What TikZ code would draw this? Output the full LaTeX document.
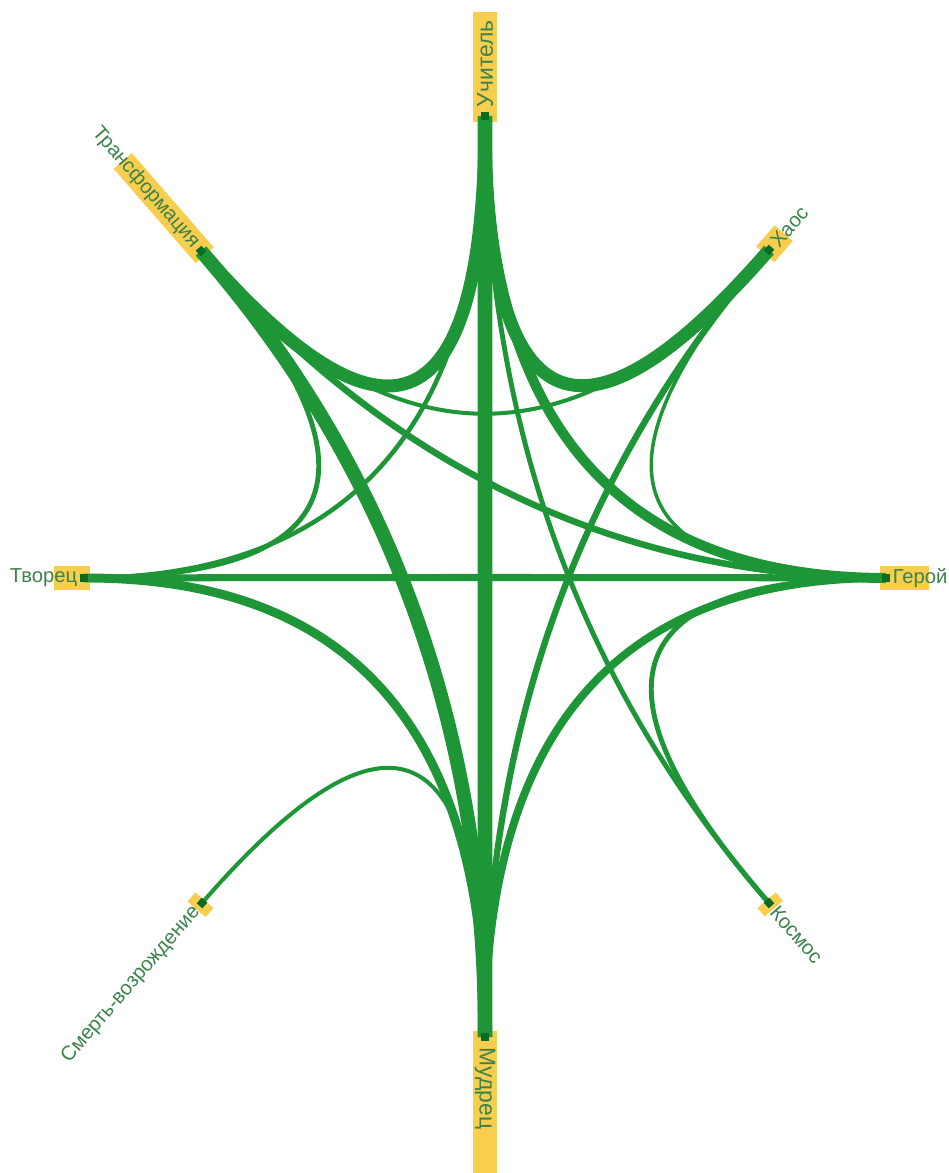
\documentclass[tikz,border=0pt]{standalone}
\usepackage{fontspec}
\setmainfont{Liberation Sans}
\usetikzlibrary{calc}

\definecolor{linkgreen}{RGB}{30,150,55}
\definecolor{nodegreen}{RGB}{10,105,35}
\definecolor{hiyellow}{RGB}{249,206,78}
\definecolor{textgreen}{RGB}{60,130,75}

\begin{document}
\begin{tikzpicture}[x=0.02cm, y=-0.02cm,
  link/.style={draw=linkgreen},
  viacentre/.style={to path={.. controls ($(\tikztostart)!2/3!(O)$) and ($(\tikztotarget)!2/3!(O)$) .. (\tikztotarget)}},
  stub/.style={fill=nodegreen, minimum size=0.15cm, inner sep=0pt},
  hibox/.style={fill=hiyellow, minimum height=0.48cm, inner sep=0pt},
  lbl/.style={text=textgreen, font=\fontsize{11.5}{13}\selectfont, inner sep=0pt}]

\useasboundingbox (0,0) rectangle (948,1173);

\coordinate (O) at (485,577);
\coordinate (U) at (485,116);
\coordinate (X) at (769,250);
\coordinate (G) at (886,578);
\coordinate (K) at (769,903);
\coordinate (M) at (485,1037);
\coordinate (S) at (202,903);
\coordinate (T) at (84,578);
\coordinate (F) at (201,251);

% yellow boxes behind the end points
\node[hibox, minimum width=2.2cm, rotate=90, anchor=west] (Ubox) at ($(U)!0.12cm!(O)$) {};
\node[hibox, minimum width=0.56cm, rotate=49, anchor=west] (Xbox) at ($(X)!0.12cm!(O)$) {};
\node[hibox, minimum width=0.98cm, anchor=west] (Gbox) at ($(G)!0.12cm!(O)$) {};
\node[hibox, minimum width=0.22cm, rotate=-49, anchor=west] (Kbox) at ($(K)!0.08cm!(O)$) {};
\node[hibox, minimum width=2.9cm, rotate=-90, anchor=west] (Mbox) at ($(M)!0.12cm!(O)$) {};
\node[hibox, minimum width=0.24cm, rotate=-131, anchor=west] (Sbox) at ($(S)!0.08cm!(O)$) {};
\node[hibox, minimum width=0.72cm, rotate=180, anchor=west] (Tbox) at ($(T)!0.12cm!(O)$) {};
\node[hibox, minimum width=2.5cm, rotate=131, anchor=west] (Fbox) at ($(F)!0.12cm!(O)$) {};

% links, bent through the centre
\draw[link, line width=8.5pt] (U) to[viacentre] (M);
\draw[link, line width=7.4pt] (U) to[viacentre] (F);
\draw[link, line width=7.4pt] (U) to[viacentre] (X);
\draw[link, line width=5.7pt] (U) to[viacentre] (G);
\draw[link, line width=2.6pt] (U) to[viacentre] (T);
\draw[link, line width=2.8pt] (U) to[viacentre] (K);
\draw[link, line width=8pt]   (F) to[viacentre] (M);
\draw[link, line width=3.7pt] (F) to[viacentre] (G);
\draw[link, line width=2.3pt] (F) to[viacentre] (X);
\draw[link, line width=2.8pt] (F) to[viacentre] (T);
\draw[link, line width=3.6pt] (X) to[viacentre] (M);
\draw[link, line width=2pt]   (X) to[viacentre] (G);
\draw[link, line width=4pt]   (T) to[viacentre] (G);
\draw[link, line width=5.1pt] (T) to[viacentre] (M);
\draw[link, line width=2.3pt] (S) to[viacentre] (M);
\draw[link, line width=4.5pt] (G) to[viacentre] (M);
\draw[link, line width=2.8pt] (G) to[viacentre] (K);

% end squares
\node[stub, rotate=90]   (Usq) at (U) {};
\node[stub, rotate=49]   (Xsq) at (X) {};
\node[stub]              (Gsq) at (G) {};
\node[stub, rotate=-49]  (Ksq) at (K) {};
\node[stub, rotate=-90]  (Msq) at (M) {};
\node[stub, rotate=49]   (Ssq) at (S) {};
\node[stub]              (Tsq) at (T) {};
\node[stub, rotate=-49]  (Fsq) at (F) {};

% labels
\node[lbl, rotate=90, anchor=west, font=\fontsize{13}{15}\selectfont] (Ulbl) at ($(U)!-0.17cm!(O)$) {Учитель};
\node[lbl, rotate=49, anchor=west]  (Xlbl) at ($(X)!-0.15cm!(O)$) {Хаос};
\node[lbl, anchor=west]             (Glbl) at ($(G)!-0.13cm!(O)$) {Герой};
\node[lbl, rotate=-49, anchor=west] (Klbl) at ($(K)!-0.15cm!(O)$) {Космос};
\node[lbl, rotate=-90, anchor=west, font=\fontsize{13}{15}\selectfont] (Mlbl) at ($(M)!-0.2cm!(O)$) {Мудрец};
\node[lbl, rotate=49, anchor=east]  (Slbl) at ($(S)!-0.15cm!(O)$) {Смерть-возрождение};
\node[lbl, anchor=east]             (Tlbl) at ($(T)!-0.13cm!(O)$) {Творец};
\node[lbl, rotate=-49, anchor=east] (Flbl) at ($(F)!-0.15cm!(O)$) {Трансформация};

\end{tikzpicture}
\end{document}
